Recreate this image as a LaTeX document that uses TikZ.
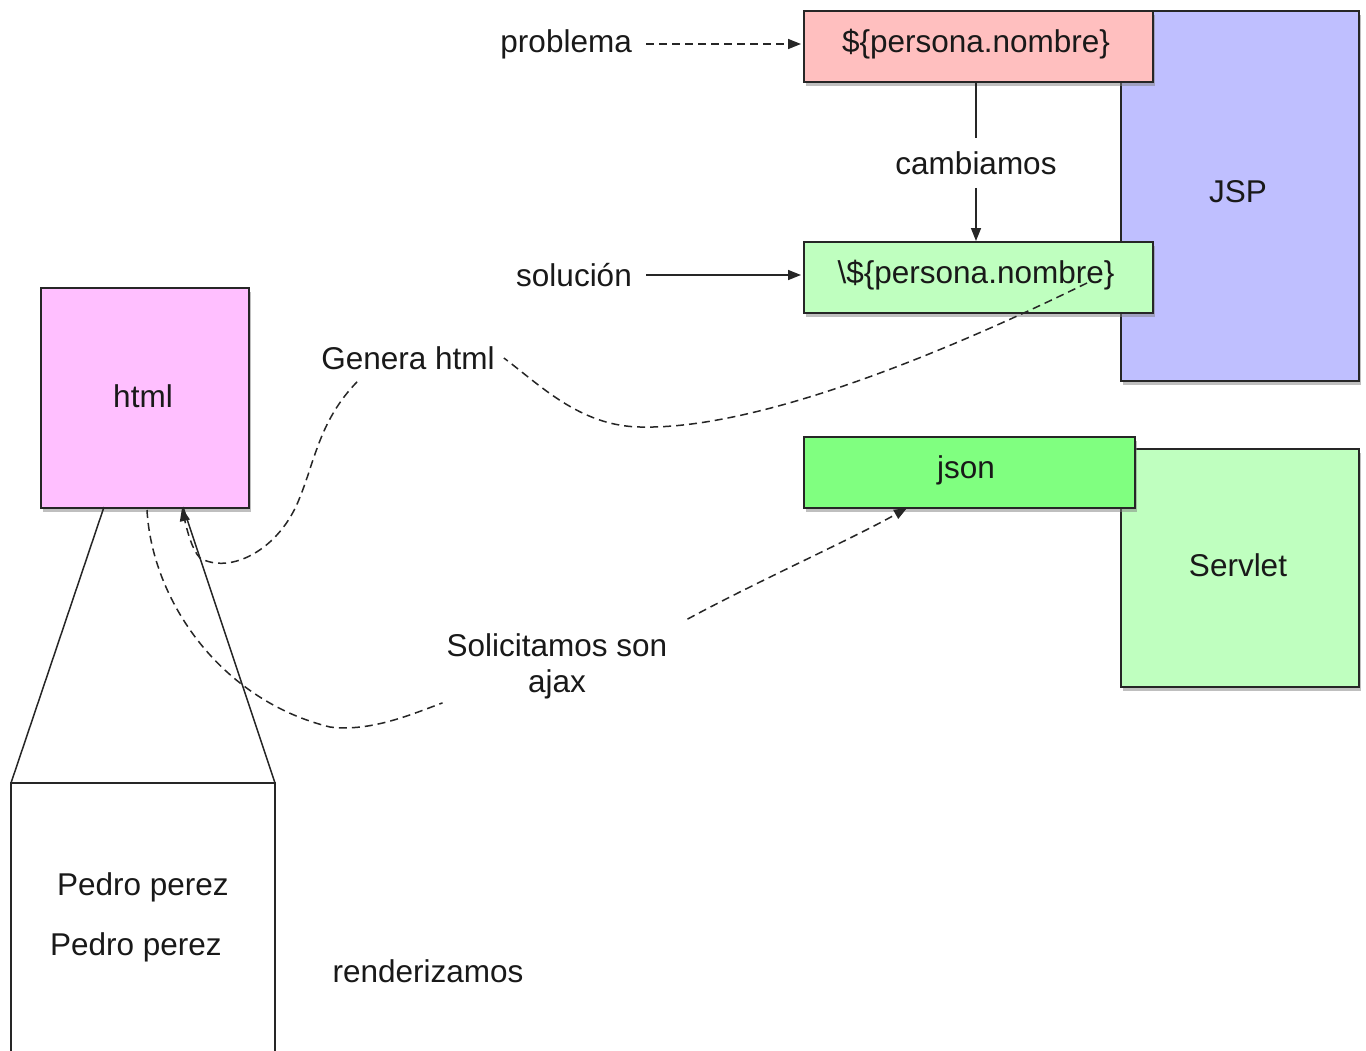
\documentclass[tikz,border=0pt]{standalone}
\usepackage{fontspec}
\setmainfont{Liberation Sans}
\usetikzlibrary{arrows.meta,shadows}
\definecolor{redfill}{HTML}{FFBFBF}
\definecolor{bluefill}{HTML}{BFBFFF}
\definecolor{greenfill}{HTML}{BFFFBF}
\definecolor{pinkfill}{HTML}{FFBFFF}
\definecolor{jsonfill}{HTML}{80FF80}
\begin{document}
\begin{tikzpicture}[x=1pt,y=-1pt,
  box/.style={draw=black!85, line width=1.7pt, rectangle, inner sep=0pt, anchor=north west,
    font=\fontsize{31.5}{36}\selectfont,
    drop shadow={shadow xshift=2.5pt, shadow yshift=-4pt, opacity=0.5}},
  lbl/.style={font=\fontsize{31.5}{36}\selectfont, inner sep=4pt, text=black!90},
  conn/.style={line width=1.5pt, draw=black!85},
  dashconn/.style={conn, dash pattern=on 8pt off 5pt},
  tip/.style={-{Triangle[length=13pt,width=10pt]}}
]
\useasboundingbox (0,0) rectangle (1366,1050);
\fill[white] (0,0) rectangle (1366,1050);

% JSP and Servlet (behind)
\node[box, fill=bluefill, minimum width=238pt, minimum height=370pt] (jsp) at (1120,10) {};
\node[lbl] (jsplbl) at (1238,192) {JSP};
\node[box, fill=greenfill, minimum width=238pt, minimum height=238pt] (servlet) at (1120,448) {};
\node[lbl] (servletlbl) at (1238,565) {Servlet};

% front boxes
\node[box, fill=redfill, minimum width=349pt, minimum height=71pt] (pers) at (803,10) {};
\node[lbl] (perslbl) at (976,44) {\$\{persona.nombre\}};
\node[box, fill=greenfill, minimum width=349pt, minimum height=71pt] (sol) at (803,241) {};
\node[lbl] (sollbl) at (976,275) {\textbackslash\$\{persona.nombre\}};
\node[box, fill=jsonfill, minimum width=331pt, minimum height=71pt] (json) at (803,436) {};
\node[lbl] (jsonlbl) at (966,470) {json};
\node[box, fill=pinkfill, minimum width=208pt, minimum height=220pt] (html) at (40,287) {};
\node[lbl] (htmllbl) at (143,396) {html};

% labels
\node[lbl, anchor=east] (prob) at (636,44) {problema};
\node[lbl, anchor=east] (solu) at (636,275) {solución};
\node[lbl, fill=white, inner ysep=13pt] (camb) at (976,163) {cambiamos};
\node[lbl] (gen) at (408,358) {Genera html};
\node[lbl, align=center] (solic) at (557,666) {Solicitamos son\\ajax};
\node[lbl] (render) at (428,971) {renderizamos};
\node[lbl] (pedro1) at (143,887) {Pedro perez};
\node[lbl] (pedro2) at (136,947) {Pedro perez};

% connectors top
\draw[dashconn, tip, shorten <=5pt, shorten >=2pt] (pers.west |- perslbl) ++(-162,0) coordinate (ps) -- (pers.west |- perslbl);
\draw[conn, tip, shorten <=5pt, shorten >=2pt] (sol.west |- sollbl) ++(-162,0) coordinate (ss) -- (sol.west |- sollbl);
\draw[conn] (pers.south -| camb) -- (camb.north);
\draw[conn, tip] (camb.south) -- (sol.north -| camb);

% zoomed-out rendered box
\coordinate (tl) at (11,783);
\coordinate (tr) at (275,783);
\coordinate (bl) at (11,1056);
\coordinate (br) at (275,1056);
\coordinate (hl) at (104,507);
\coordinate (hr) at (183,507);
\draw[conn] (bl) -- (tl) -- (tr) -- (br);
\draw[conn] (hl) -- (tl);
\draw[conn] (tr) -- (hr);

% Genera html curve
\coordinate (gstart) at (1087,283);
\coordinate (gend) at (182,508);
\draw[dashconn] (gstart) .. controls (950,350) and (760,430) .. (640,427)
   .. controls (580,426) and (540,385) .. ([xshift=5pt]gen.east);
\draw[dashconn, tip] (gen.south west) ++(40,8) .. controls (320,420) and (315,460) .. (300,497)
   .. controls (280,550) and (230,575) .. (200,558)
   .. controls (192,550) and (187,530) .. (gend);

% Solicitamos curve
\coordinate (sstart) at (147,510);
\coordinate (jtarget) at (907,508);
\draw[dashconn] (sstart) .. controls (152,600) and (220,700) .. (330,727)
   .. controls (370,732) and (410,715) .. (solic.south west);
\draw[dashconn, tip] (solic.north east) ++(16,-10) .. controls (760,580) and (850,540) .. (jtarget);
\end{tikzpicture}
\end{document}
